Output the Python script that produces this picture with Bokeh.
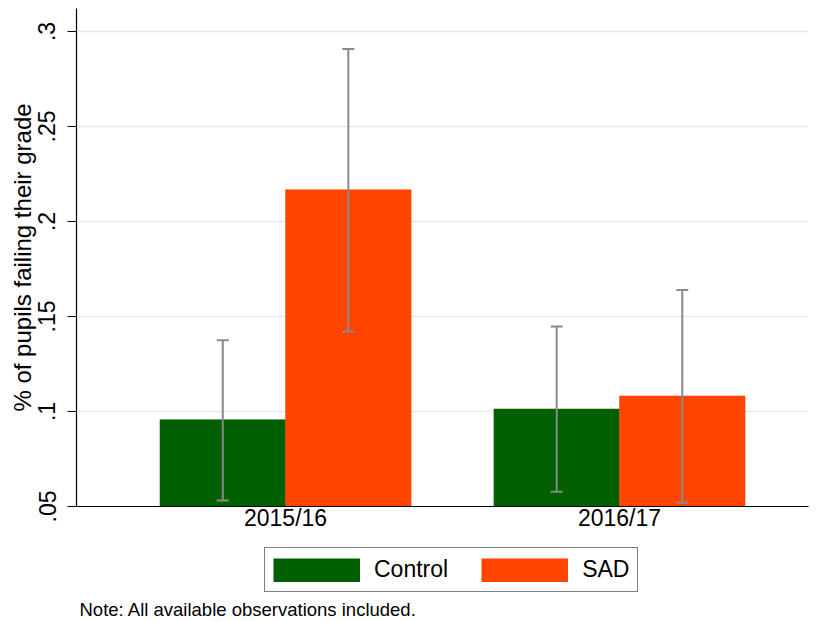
from bokeh.plotting import figure
from bokeh.layouts import column
from bokeh.models import (Range1d, FixedTicker, ColumnDataSource, Whisker, TeeHead,
                          Legend, LegendItem, Label)
from bokeh.embed import file_html
from bokeh.resources import INLINE

# ---- data ----
categories = ["2015/16", "2016/17"]
control = [0.0957, 0.1013]
sad = [0.2167, 0.1082]
control_lo = [0.0532, 0.0578]
control_hi = [0.1375, 0.1448]
sad_lo = [0.1421, 0.0520]
sad_hi = [0.2908, 0.1639]
y_ticks = [0.05, 0.10, 0.15, 0.20, 0.25, 0.30]
y_tick_labels = [".05", ".1", ".15", ".2", ".25", ".3"]
series_names = ["Control", "SAD"]
note_text = "Note: All available observations included."

FONT = "Liberation Sans"
GREEN = "#005f00"
ORANGE = "#ff4500"
GRAY = "#8a8a8a"
BW = 0.376

pos = [i + 1 for i in range(len(categories))]
src_c = ColumnDataSource(dict(x=[q - BW / 2 for q in pos], top=control, lo=control_lo, hi=control_hi))
src_s = ColumnDataSource(dict(x=[q + BW / 2 for q in pos], top=sad, lo=sad_lo, hi=sad_hi))

# ---- main chart ----
p = figure(frame_width=732, frame_height=498, output_backend="svg", toolbar_location=None,
           x_range=Range1d(0.374, 2.566), y_range=Range1d(0.05, 0.3121),
           min_border_left=76, min_border_right=8, min_border_top=8, min_border_bottom=34)
p.title.visible = False
p.outline_line_color = None
p.background_fill_color = "white"
p.border_fill_color = "white"

p.vbar(x="x", top="top", bottom=0.05, width=BW, source=src_c,
       fill_color=GREEN, line_color=GREEN, line_width=0.5)
p.vbar(x="x", top="top", bottom=0.05, width=BW, source=src_s,
       fill_color=ORANGE, line_color=ORANGE, line_width=0.5)

for src in (src_c, src_s):
    w = Whisker(base="x", lower="lo", upper="hi", source=src, dimension="height",
                line_color=GRAY, line_width=2, level="overlay",
                upper_head=TeeHead(size=12, line_color=GRAY, line_width=2),
                lower_head=TeeHead(size=12, line_color=GRAY, line_width=2))
    p.add_layout(w)

p.xaxis.ticker = FixedTicker(ticks=pos)
p.xaxis.major_label_overrides = {q: c for q, c in zip(pos, categories)}
p.xaxis.major_tick_out = 0
p.xaxis.major_tick_in = 0
p.xaxis.minor_tick_line_color = None
p.xaxis.major_label_standoff = -2
p.xaxis.major_label_text_font = FONT
p.xaxis.major_label_text_font_size = "23px"
p.xaxis.major_label_text_color = "black"
p.xaxis.axis_line_color = "black"
p.xaxis.axis_line_width = 1.2

p.yaxis.ticker = FixedTicker(ticks=y_ticks)
p.yaxis.major_label_overrides = {t: l for t, l in zip(y_ticks, y_tick_labels)}
p.yaxis.major_label_orientation = "vertical"
p.yaxis.major_tick_out = 9
p.yaxis.major_tick_in = 0
p.yaxis.major_tick_line_color = "black"
p.yaxis.minor_tick_line_color = None
p.yaxis.major_label_standoff = 12
p.yaxis.major_label_text_font = FONT
p.yaxis.major_label_text_font_size = "23px"
p.yaxis.major_label_text_color = "black"
p.yaxis.axis_line_color = "black"
p.yaxis.axis_line_width = 1.2
p.yaxis.axis_label = "% of pupils failing their grade"
p.yaxis.axis_label_text_font = FONT
p.yaxis.axis_label_text_font_size = "24px"
p.yaxis.axis_label_text_font_style = "normal"
p.yaxis.axis_label_text_color = "black"
p.yaxis.axis_label_standoff = 0

p.xgrid.grid_line_color = None
p.ygrid.grid_line_color = "#e4ebee"
p.ygrid.grid_line_width = 1.5

# ---- legend + note strip (frame aligned with the chart's frame) ----
q = figure(width=816, height=81, output_backend="svg", toolbar_location=None,
           x_range=Range1d(0, 1), y_range=Range1d(0, 1),
           min_border_left=0, min_border_right=0, min_border_top=0, min_border_bottom=0)
q.title.visible = False
q.axis.visible = False
q.grid.visible = False
q.outline_line_color = None
q.background_fill_color = "white"
q.border_fill_color = "white"

# legend-only renderers (zero-length lines draw nothing); thick lines give solid swatches
lc = q.line(x=[0.5, 0.5], y=[0.5, 0.5], line_color=GREEN, line_width=24, line_cap="butt")
ls = q.line(x=[0.5, 0.5], y=[0.5, 0.5], line_color=ORANGE, line_width=24, line_cap="butt")

legend = Legend(items=[LegendItem(label=series_names[0], renderers=[lc]),
                       LegendItem(label=series_names[1], renderers=[ls])],
                orientation="horizontal", location=(188, 29),
                glyph_width=87, glyph_height=24, label_standoff=14, spacing=33,
                padding=8, margin=0, border_line_color="black", border_line_width=1,
                background_fill_color="white", background_fill_alpha=1,
                label_text_font=FONT, label_text_font_size="23px", label_text_color="black")
q.add_layout(legend, "center")

note = Label(x=3, y=12, x_units="screen", y_units="screen", text=note_text,
             text_font=FONT, text_font_size="18.5px", text_color="black",
             text_baseline="middle", text_align="left")
q.add_layout(note)

layout = column(p, q, spacing=0)
open("out.html", "w").write(file_html(layout, INLINE))
